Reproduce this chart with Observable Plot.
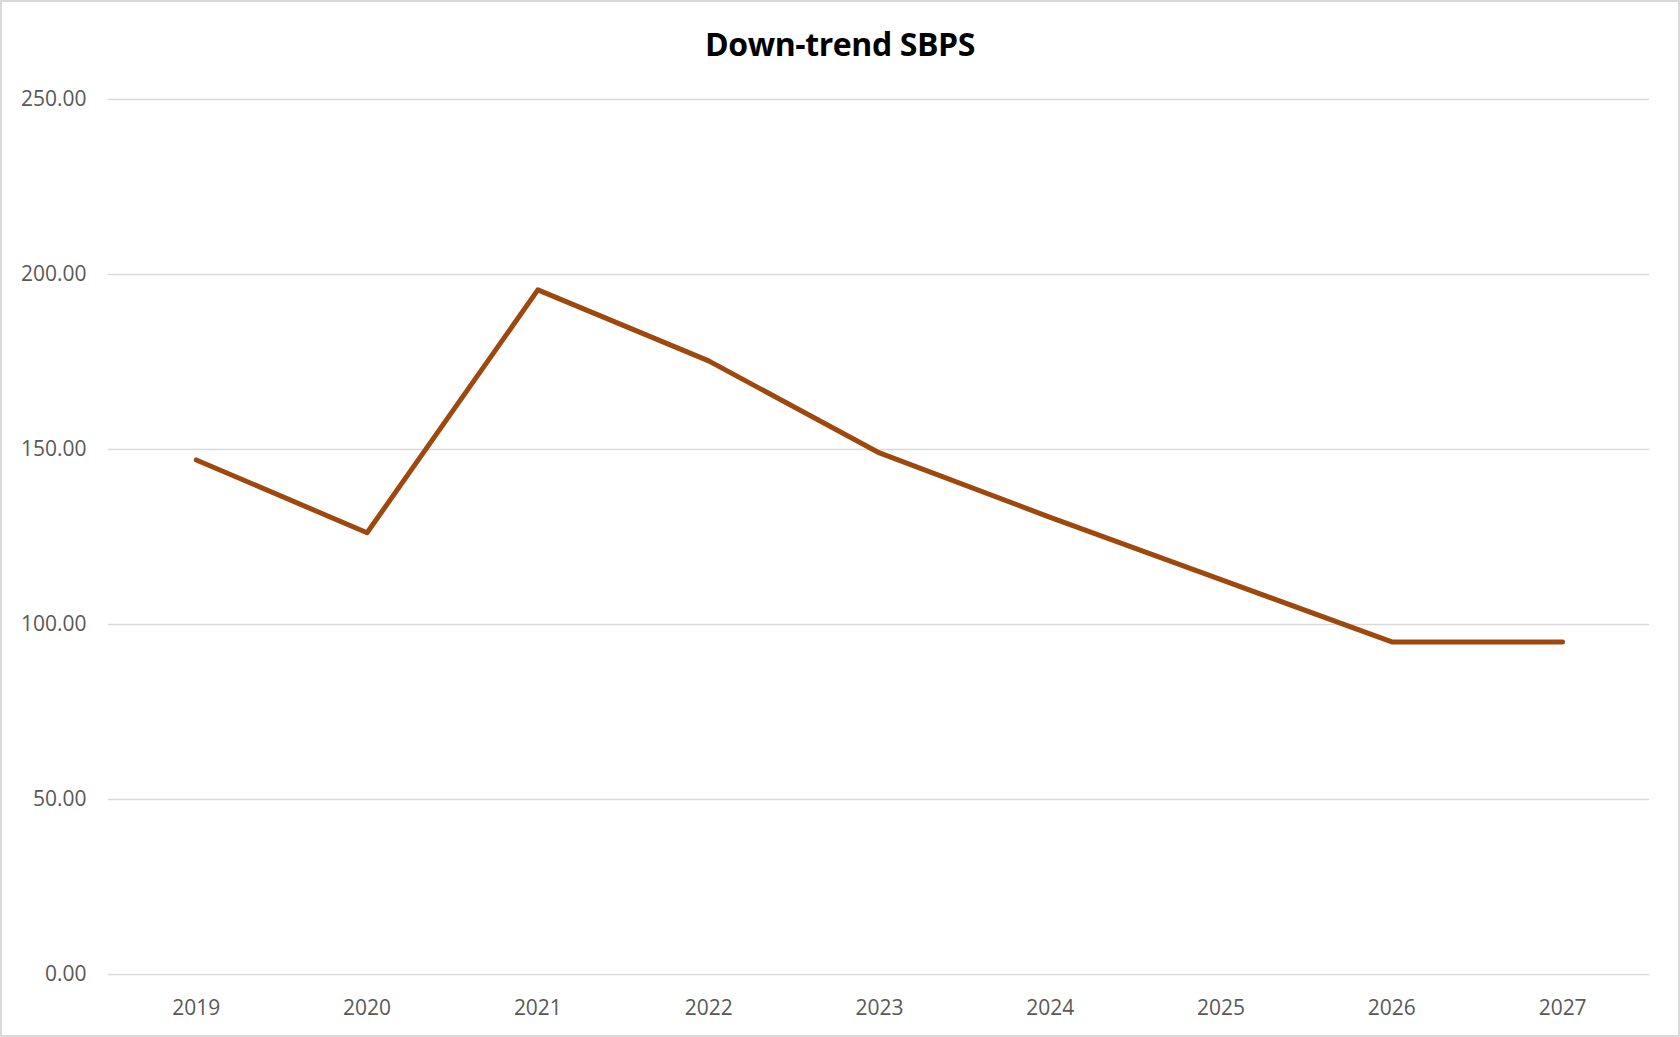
<!DOCTYPE html>
<html>
<head>
<meta charset="utf-8">
<script src="https://cdn.jsdelivr.net/npm/d3@7"></script>
<script src="https://cdn.jsdelivr.net/npm/@observablehq/plot@0.6"></script>
<style>
  html, body { margin: 0; padding: 0; background: #fff; }
  #chart {
    width: 1680px; height: 1037px; box-sizing: border-box;
    border: 2px solid #d9d9d9; position: relative; overflow: hidden;
    font-family: "Open Sans", "Noto Sans", sans-serif;
  }
  #title {
    position: absolute; left: 0; top: 0; width: 100%; height: 70px;
    text-align: center; font-weight: 700; font-size: 32px; line-height: 32px;
    padding-top: 26px; box-sizing: border-box; color: #000;
    letter-spacing: -0.4px;
  }
  #plot { position: absolute; left: -2px; top: 68px; }
</style>
</head>
<body>
<div id="chart">
  <div id="title">Down-trend SBPS</div>
  <div id="plot"></div>
</div>
<script>
const years = ["2019", "2020", "2021", "2022", "2023", "2024", "2025", "2026", "2027"];
const values = [147.0, 126.2, 195.6, 175.3, 149.0, 130.6, 112.8, 95.0, 95.0];
const yTicks = [0, 50, 100, 150, 200, 250];

const data = years.map((year, i) => ({year, value: values[i]}));

const plot = Plot.plot({
  width: 1680,
  height: 967,
  marginTop: 29,
  marginBottom: 62,
  marginLeft: 108,
  marginRight: 29,
  style: {color: "#595959", fontSize: "21px", fontFamily: "'Open Sans', 'Noto Sans', sans-serif", background: "transparent"},
  x: {type: "point", domain: years, padding: 0.5},
  y: {domain: [0, 250]},
  marks: [
    Plot.ruleY(yTicks, {stroke: "#d9d9d9", strokeWidth: 1.5}),
    Plot.axisY({ticks: yTicks, tickSize: 0, tickPadding: 22, tickFormat: d3.format(".2f"), label: null}),
    Plot.axisX({tickSize: 0, tickPadding: 26, label: null}),
    Plot.line(data, {x: "year", y: "value", stroke: "#9E480E", strokeWidth: 5, strokeLinecap: "round", strokeLinejoin: "round"})
  ]
});
document.getElementById("plot").appendChild(plot);
</script>
</body>
</html>
